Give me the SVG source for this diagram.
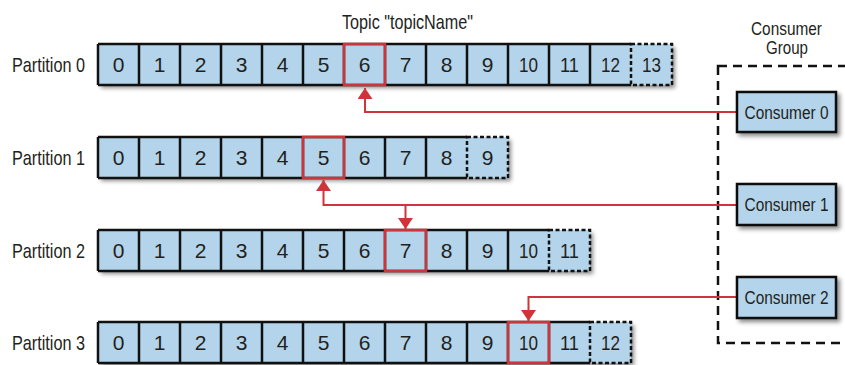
<svg xmlns="http://www.w3.org/2000/svg" width="845" height="365" viewBox="0 0 845 365">
<style>
text{font-family:"Liberation Sans",Arial,sans-serif;fill:#231f20}
.lbl{font-size:21px}
.n{font-size:21px;text-anchor:middle}
.bg{fill:#b3d4ea}
.sl{fill:none;stroke:#111;stroke-width:2.5}
.dc{fill:#b3d4ea;stroke:#111;stroke-width:2.5;stroke-dasharray:4 2.5}
.hl{fill:none;stroke:#d0343b;stroke-width:2.5}
.cons{fill:#b3d4ea;stroke:#111;stroke-width:2.5}
.ct{font-size:19px;text-anchor:middle}
.cn{font-size:17.5px;text-anchor:middle}
.wire{fill:none;stroke:#d0343b;stroke-width:2;marker-end:url(#ah)}
</style>
<defs>
<filter id="sh" x="-5%" y="-20%" width="115%" height="160%">
<feDropShadow dx="3" dy="3" stdDeviation="2.2" flood-color="#000" flood-opacity="0.45"/>
</filter>
<marker id="ah" viewBox="0 0 11 15" markerWidth="11" markerHeight="15" refX="11" refY="7.5" orient="auto" markerUnits="userSpaceOnUse">
<path d="M0,0 L11,7.5 L0,15 z" fill="#d0343b"/>
</marker>
</defs>
<rect width="845" height="365" fill="#fff"/>

<text id="topic-title" class="lbl" x="342" y="29" textLength="131" lengthAdjust="spacingAndGlyphs">Topic "topicName"</text>

<g id="partition-0">
<text class="lbl" x="12" y="72" textLength="73" lengthAdjust="spacingAndGlyphs">Partition 0</text>
<rect class="bg" x="98" y="44" width="574" height="41" filter="url(#sh)"/>
<path class="sl" d="M98,44H631M98,85H631M98,44V85M139,44V85M180,44V85M221,44V85M262,44V85M303,44V85M344,44V85M385,44V85M426,44V85M467,44V85M508,44V85M549,44V85M590,44V85"/>
<rect class="dc" x="631" y="44" width="41" height="41"/>
<rect class="hl" x="344" y="44" width="41" height="41"/>
<text class="n" x="118.5" y="72">0</text><text class="n" x="159.5" y="72">1</text><text class="n" x="200.5" y="72">2</text><text class="n" x="241.5" y="72">3</text><text class="n" x="282.5" y="72">4</text><text class="n" x="323.5" y="72">5</text><text class="n" x="364.5" y="72">6</text><text class="n" x="405.5" y="72">7</text><text class="n" x="446.5" y="72">8</text><text class="n" x="487.5" y="72">9</text><text class="n" x="528.5" y="72" textLength="19" lengthAdjust="spacingAndGlyphs">10</text><text class="n" x="569.5" y="72" textLength="19" lengthAdjust="spacingAndGlyphs">11</text><text class="n" x="610.5" y="72" textLength="19" lengthAdjust="spacingAndGlyphs">12</text><text class="n" x="651.5" y="72" textLength="19" lengthAdjust="spacingAndGlyphs">13</text>
</g>

<g id="partition-1">
<text class="lbl" x="12" y="165" textLength="73" lengthAdjust="spacingAndGlyphs">Partition 1</text>
<rect class="bg" x="98" y="137" width="410" height="41" filter="url(#sh)"/>
<path class="sl" d="M98,137H467M98,178H467M98,137V178M139,137V178M180,137V178M221,137V178M262,137V178M303,137V178M344,137V178M385,137V178M426,137V178"/>
<rect class="dc" x="467" y="137" width="41" height="41"/>
<rect class="hl" x="303" y="137" width="41" height="41"/>
<text class="n" x="118.5" y="165">0</text><text class="n" x="159.5" y="165">1</text><text class="n" x="200.5" y="165">2</text><text class="n" x="241.5" y="165">3</text><text class="n" x="282.5" y="165">4</text><text class="n" x="323.5" y="165">5</text><text class="n" x="364.5" y="165">6</text><text class="n" x="405.5" y="165">7</text><text class="n" x="446.5" y="165">8</text><text class="n" x="487.5" y="165">9</text>
</g>

<g id="partition-2">
<text class="lbl" x="12" y="258" textLength="73" lengthAdjust="spacingAndGlyphs">Partition 2</text>
<rect class="bg" x="98" y="230" width="492" height="41" filter="url(#sh)"/>
<path class="sl" d="M98,230H549M98,271H549M98,230V271M139,230V271M180,230V271M221,230V271M262,230V271M303,230V271M344,230V271M385,230V271M426,230V271M467,230V271M508,230V271"/>
<rect class="dc" x="549" y="230" width="41" height="41"/>
<rect class="hl" x="385" y="230" width="41" height="41"/>
<text class="n" x="118.5" y="258">0</text><text class="n" x="159.5" y="258">1</text><text class="n" x="200.5" y="258">2</text><text class="n" x="241.5" y="258">3</text><text class="n" x="282.5" y="258">4</text><text class="n" x="323.5" y="258">5</text><text class="n" x="364.5" y="258">6</text><text class="n" x="405.5" y="258">7</text><text class="n" x="446.5" y="258">8</text><text class="n" x="487.5" y="258">9</text><text class="n" x="528.5" y="258" textLength="19" lengthAdjust="spacingAndGlyphs">10</text><text class="n" x="569.5" y="258" textLength="19" lengthAdjust="spacingAndGlyphs">11</text>
</g>

<g id="partition-3">
<text class="lbl" x="12" y="350" textLength="73" lengthAdjust="spacingAndGlyphs">Partition 3</text>
<rect class="bg" x="98" y="322" width="533" height="41" filter="url(#sh)"/>
<path class="sl" d="M98,322H590M98,363H590M98,322V363M139,322V363M180,322V363M221,322V363M262,322V363M303,322V363M344,322V363M385,322V363M426,322V363M467,322V363M508,322V363M549,322V363"/>
<rect class="dc" x="590" y="322" width="41" height="41"/>
<rect class="hl" x="508" y="322" width="41" height="41"/>
<text class="n" x="118.5" y="350">0</text><text class="n" x="159.5" y="350">1</text><text class="n" x="200.5" y="350">2</text><text class="n" x="241.5" y="350">3</text><text class="n" x="282.5" y="350">4</text><text class="n" x="323.5" y="350">5</text><text class="n" x="364.5" y="350">6</text><text class="n" x="405.5" y="350">7</text><text class="n" x="446.5" y="350">8</text><text class="n" x="487.5" y="350">9</text><text class="n" x="528.5" y="350" textLength="19" lengthAdjust="spacingAndGlyphs">10</text><text class="n" x="569.5" y="350" textLength="19" lengthAdjust="spacingAndGlyphs">11</text><text class="n" x="610.5" y="350" textLength="19" lengthAdjust="spacingAndGlyphs">12</text>
</g>

<g id="consumer-group">
<text class="ct" x="786.5" y="35" textLength="71" lengthAdjust="spacingAndGlyphs">Consumer</text>
<text class="ct" x="787" y="54" textLength="42" lengthAdjust="spacingAndGlyphs">Group</text>
<rect x="718" y="66" width="200" height="277" fill="none" stroke="#111" stroke-width="2.5" stroke-dasharray="9 6"/>
</g>

<g id="connectors">
<path class="wire" d="M737,112H365V88"/>
<path class="wire" d="M737,205H323.5V180"/>
<path class="wire" d="M405.5,205V229"/>
<path class="wire" d="M737,297H528.5V321"/>
</g>

<g id="consumer-0">
<rect class="cons" x="737" y="92" width="99" height="40" filter="url(#sh)"/>
<text class="cn" x="786.5" y="118.5" textLength="84" lengthAdjust="spacingAndGlyphs">Consumer 0</text>
</g>
<g id="consumer-1">
<rect class="cons" x="737" y="184" width="99" height="41" filter="url(#sh)"/>
<text class="cn" x="786.5" y="210.5" textLength="84" lengthAdjust="spacingAndGlyphs">Consumer 1</text>
</g>
<g id="consumer-2">
<rect class="cons" x="737" y="277" width="99" height="41" filter="url(#sh)"/>
<text class="cn" x="786.5" y="303.5" textLength="84" lengthAdjust="spacingAndGlyphs">Consumer 2</text>
</g>
</svg>
